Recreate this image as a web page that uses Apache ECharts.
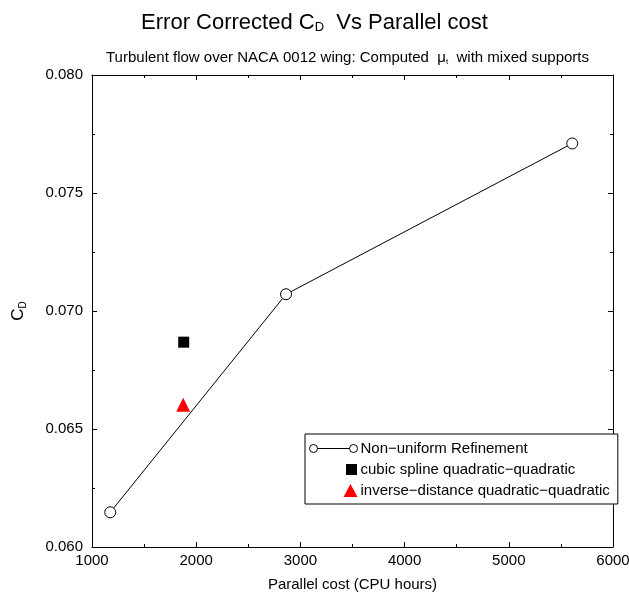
<!DOCTYPE html>
<html>
<head>
<meta charset="utf-8">
<script src="https://cdn.jsdelivr.net/npm/echarts@6/dist/echarts.min.js"></script>
<style>
  html, body { margin: 0; padding: 0; background: #fff; }
  #chart { width: 629px; height: 596px; }
</style>
</head>
<body>
<div id="chart"></div>
<script>
// Parallel cost (CPU hours) and error-corrected drag coefficient
const refinementCost = [1175, 2862, 5609];
const refinementCd = [0.06147, 0.07071, 0.0771];
const splineCost = [1880];
const splineCd = [0.06868];
const inverseCost = [1875];
const inverseCd = [0.06603];

const seriesNames = [
  'Non\u2212uniform Refinement',
  'cubic spline quadratic\u2212quadratic',
  'inverse\u2212distance quadratic\u2212quadratic'
];

const xTicks = { min: 1000, max: 6000, interval: 1000 };
const yTicks = { min: 0.060, max: 0.080, interval: 0.005 };

const FONT = '"Liberation Sans", Arial, sans-serif';

const pairs = (xs, ys) => xs.map((x, i) => [x, ys[i]]);

const chart = echarts.init(document.getElementById('chart'), null, { renderer: 'canvas' });

const axisCommon = {
  axisLine: { show: true, onZero: false, lineStyle: { color: '#000', width: 1 } },
  axisTick: { show: true, inside: true, length: 5, lineStyle: { color: '#000' } },
  minorTick: { show: true, splitNumber: 2, length: 3, lineStyle: { color: '#000' } },
  splitLine: { show: false }
};

const option = {
  backgroundColor: '#fff',
  animation: false,
  title: [
    {
      text: 'Error Corrected C{sub|D}  Vs Parallel cost',
      left: 'center', top: 6,
      textStyle: {
        fontFamily: FONT, fontSize: 22, fontWeight: 'normal', color: '#000',
        rich: { sub: { fontFamily: FONT, fontSize: 13, color: '#000', verticalAlign: 'bottom', padding: [10, 0, 0, 0] } }
      }
    },
    {
      text: 'Turbulent flow over NACA 0012 wing: Computed  \u03bc{sub|t}  with mixed supports',
      left: 101, top: 45,
      textStyle: {
        fontFamily: FONT, fontSize: 15, fontWeight: 'normal', color: '#000',
        rich: { sub: { fontFamily: FONT, fontSize: 8, color: '#000', padding: [8, 0, 0, 0] } }
      }
    }
  ],
  grid: { left: 92, right: 16, top: 75, bottom: 49, containLabel: false, outerBoundsMode: 'none' },
  xAxis: [
    Object.assign({
      type: 'value', position: 'bottom',
      min: xTicks.min, max: xTicks.max, interval: xTicks.interval,
      name: 'Parallel cost (CPU hours)', nameLocation: 'middle', nameGap: 30,
      nameTextStyle: { fontFamily: FONT, fontSize: 15, color: '#000' },
      axisLabel: { fontFamily: FONT, fontSize: 15, color: '#000', margin: 6, formatter: v => String(v) }
    }, axisCommon),
    Object.assign({
      type: 'value', position: 'top',
      min: xTicks.min, max: xTicks.max, interval: xTicks.interval,
      axisLabel: { show: false }
    }, axisCommon)
  ],
  yAxis: [
    Object.assign({
      type: 'value', position: 'left',
      min: yTicks.min, max: yTicks.max, interval: yTicks.interval,
      name: 'C{sub|D}', nameLocation: 'middle', nameGap: 64, nameRotate: 90,
      nameTextStyle: {
        fontFamily: FONT, fontSize: 17, color: '#000',
        rich: { sub: { fontFamily: FONT, fontSize: 10, color: '#000', padding: [9, 0, 0, 0] } }
      },
      axisLabel: {
        fontFamily: FONT, fontSize: 15, color: '#000', margin: 9,
        formatter: v => v.toFixed(3)
      }
    }, axisCommon),
    Object.assign({
      type: 'value', position: 'right',
      min: yTicks.min, max: yTicks.max, interval: yTicks.interval,
      axisLabel: { show: false }
    }, axisCommon)
  ],
  legend: {
    orient: 'vertical',
    left: 305, top: 434,
    width: 312,
    padding: [7, 8, 6, 4],
    itemGap: 6,
    itemWidth: 48, itemHeight: 14,
    borderColor: '#000', borderWidth: 1, borderRadius: 0,
    backgroundColor: '#fff',
    selectedMode: false,
    textStyle: { fontFamily: FONT, fontSize: 15, color: '#000', padding: [0, 0, 0, -2] },
    data: [
      {
        name: seriesNames[0],
        icon: 'path://M0,7 A4,4 0 1,0 8,7 A4,4 0 1,0 0,7 Z M8,7 L40,7 M40,7 A4,4 0 1,0 48,7 A4,4 0 1,0 40,7 Z',
        itemStyle: { color: 'rgba(0,0,0,0)', borderColor: '#000', borderWidth: 1 }
      },
      {
        name: seriesNames[1],
        icon: 'path://M0,0 M36,1.5 L47,1.5 L47,12.5 L36,12.5 Z M0,14',
        itemStyle: { color: '#000', opacity: 1 }
      },
      {
        name: seriesNames[2],
        icon: 'path://M0,0 M41,0.5 L48,13.5 L34,13.5 Z M0,14',
        itemStyle: { color: '#ff0000', opacity: 1 }
      }
    ]
  },
  series: [
    {
      name: seriesNames[0],
      type: 'line',
      data: pairs(refinementCost, refinementCd),
      symbol: 'circle', symbolSize: 11,
      itemStyle: { color: '#fff', borderColor: '#000', borderWidth: 1 },
      lineStyle: { color: '#000', width: 1 },
      z: 3
    },
    {
      name: seriesNames[1],
      type: 'scatter',
      data: pairs(splineCost, splineCd),
      symbol: 'rect', symbolSize: 11,
      itemStyle: { color: '#000', opacity: 1 },
      z: 4
    },
    {
      name: seriesNames[2],
      type: 'scatter',
      data: pairs(inverseCost, inverseCd),
      symbol: 'triangle', symbolSize: [14, 14],
      itemStyle: { color: '#ff0000', opacity: 1 },
      z: 4
    }
  ]
};

chart.setOption(option);
</script>
</body>
</html>
